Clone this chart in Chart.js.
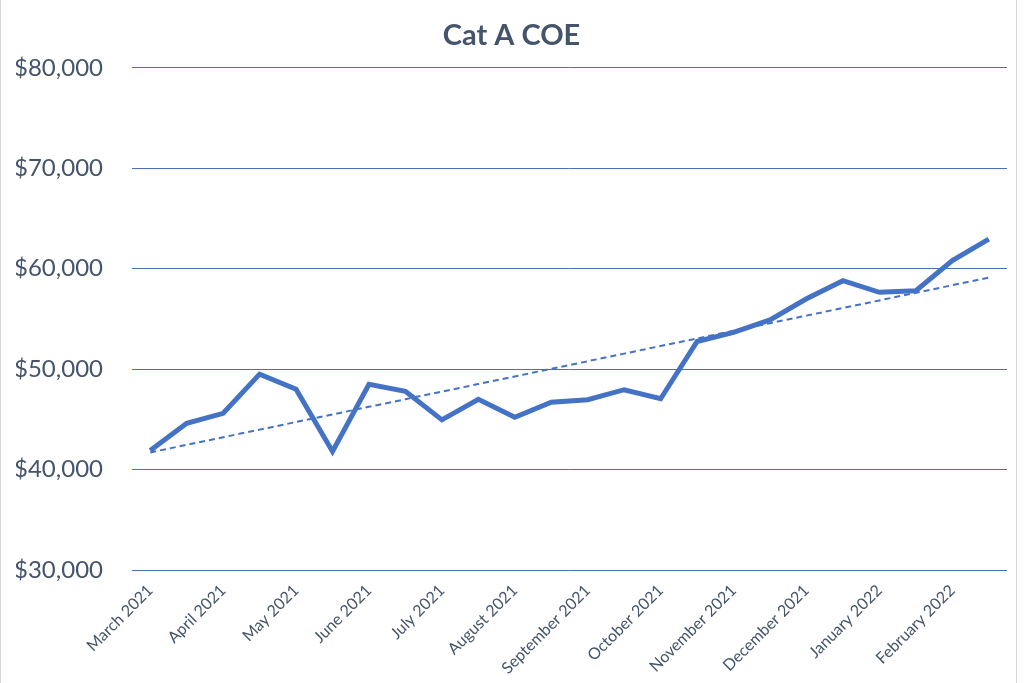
<!DOCTYPE html>
<html>
<head>
<meta charset="utf-8">
<script src="https://cdn.jsdelivr.net/npm/chart.js@4/dist/chart.umd.min.js"></script>
<style>
  html, body { margin: 0; padding: 0; background: #fff; }
  .wrap { position: relative; width: 1024px; height: 683px; }
  .wrap:before { content: ''; position: absolute; left: 0; top: 0; width: 1px; height: 683px; background: #d6d6d6; }
  .wrap:after { content: ''; position: absolute; left: 1016px; top: 0; width: 1px; height: 683px; background: #d6d6d6; }
</style>
</head>
<body>
<div class="wrap"><canvas id="myChart" width="1024" height="683"></canvas></div>
<script>
// two bidding exercises a month, label shown on the first one
let months = ['March 2021', 'April 2021', 'May 2021', 'June 2021', 'July 2021', 'August 2021',
  'September 2021', 'October 2021', 'November 2021', 'December 2021', 'January 2022', 'February 2022'];
let coeValues = [41900, 44600, 45600, 49500, 48000, 41800, 48500, 47800, 44950, 47000, 45200, 46700,
  46950, 47950, 47050, 52750, 53650, 54900, 57000, 58800, 57650, 57800, 60800, 62950];
let yTicks = [30000, 40000, 50000, 60000, 70000, 80000];

let labels = [];
for (let i = 0; i < months.length; i++) {
  labels.push(months[i]);
  labels.push(months[i] + ' (2)');
}

// linear trendline (least squares) like Excel's
function trendLine(values) {
  let n = values.length;
  let sx = 0, sy = 0, sxy = 0, sxx = 0;
  for (let i = 0; i < n; i++) {
    sx += i; sy += values[i]; sxy += i * values[i]; sxx += i * i;
  }
  let slope = (n * sxy - sx * sy) / (n * sxx - sx * sx);
  let icpt = (sy - slope * sx) / n;
  return values.map((v, i) => icpt + slope * i);
}

const textColor = '#44546a';
const blue = '#4472c4';

const ctx = document.getElementById('myChart').getContext('2d');
new Chart(ctx, {
  type: 'line',
  data: {
    labels: labels,
    datasets: [{
      label: 'Cat A COE',
      data: coeValues,
      borderColor: blue,
      borderWidth: 5,
      pointRadius: 0,
      tension: 0
    }, {
      label: 'Trend',
      data: trendLine(coeValues),
      borderColor: blue,
      borderWidth: 2,
      borderDash: [6, 4],
      pointRadius: 0,
      tension: 0
    }]
  },
  options: {
    responsive: false,
    animation: false,
    layout: { padding: { left: 16, right: 17, top: 0, bottom: 0 } },
    plugins: {
      legend: { display: false },
      tooltip: { enabled: false },
      title: {
        display: true,
        text: 'Cat A COE',
        color: textColor,
        font: { family: 'Lato', size: 29, weight: 'bold' },
        padding: { top: 18, bottom: 15 }
      }
    },
    scales: {
      x: {
        offset: true,
        grid: { display: false },
        border: { display: false },
        afterFit: function(axis) {
          axis.paddingLeft = 0;
          axis.height = 113;
        },
        ticks: {
          autoSkip: false,
          minRotation: 45,
          maxRotation: 45,
          padding: 3,
          color: textColor,
          font: { family: 'Lato', size: 16 },
          callback: function(val, idx) {
            return idx % 2 == 0 ? months[idx / 2] : '';
          }
        }
      },
      y: {
        min: yTicks[0],
        max: yTicks[yTicks.length - 1],
        afterBuildTicks: function(axis) {
          axis.ticks = yTicks.map(v => ({ value: v }));
        },
        afterFit: function(axis) {
          axis.width = 116;
        },
        grid: { color: '#4a6fb5', lineWidth: 1, drawTicks: false },
        border: { display: false },
        ticks: {
          padding: 29,
          color: textColor,
          font: { family: 'Lato', size: 24 },
          callback: function(v) { return '$' + v.toLocaleString('en-US'); }
        }
      }
    }
  }
});
</script>
</body>
</html>
